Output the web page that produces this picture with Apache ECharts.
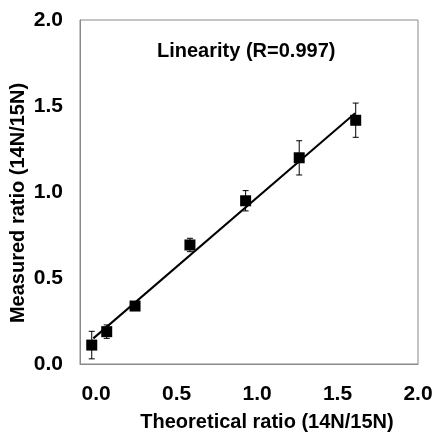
<!DOCTYPE html>
<html>
<head>
<meta charset="utf-8">
<script src="https://cdn.jsdelivr.net/npm/echarts@6/dist/echarts.min.js"></script>
<style>
html,body{margin:0;padding:0;background:#fff;}
#main{width:434px;height:433px;}
</style>
</head>
<body>
<div id="main"></div>
<script>
// theoretical vs measured ratio (14N/15N)
var theoX = [-0.027, 0.066, 0.242, 0.583, 0.929, 1.262, 1.613];
var measY = [0.11, 0.188, 0.337, 0.692, 0.949, 1.199, 1.417];
var errLow = [0.03, 0.149, 0.322, 0.653, 0.89, 1.099, 1.318];
var errHigh = [0.19, 0.227, 0.352, 0.731, 1.008, 1.298, 1.517];
// fitted line ends
var fitX = [-0.017, 1.609];
var fitY = [0.149, 1.458];
var tickVals = [0, 0.5, 1.0, 1.5, 2.0];

var fontFam = '"Liberation Sans", Arial, sans-serif';

function fmt(v){
    return Number(v).toFixed(1);
}

var pointData = [];
var barData = [];
for(var i=0;i<theoX.length;i++){
    pointData.push([theoX[i], measY[i]]);
    barData.push([theoX[i], errLow[i], errHigh[i]]);
}
var lineData = [];
for(var j=0;j<fitX.length;j++){
    lineData.push([fitX[j], fitY[j]]);
}

//误差线
function renderErr(params, api){
    var x = api.value(0);
    var lo = api.coord([x, api.value(1)]);
    var hi = api.coord([x, api.value(2)]);
    var w = 3;
    var st = {stroke:'#000', lineWidth:1};
    return {
        type:'group',
        children:[
            {type:'line', shape:{x1:lo[0], y1:lo[1], x2:hi[0], y2:hi[1]}, style:st},
            {type:'line', shape:{x1:lo[0]-w, y1:lo[1], x2:lo[0]+w, y2:lo[1]}, style:st},
            {type:'line', shape:{x1:hi[0]-w, y1:hi[1], x2:hi[0]+w, y2:hi[1]}, style:st}
        ]
    };
}

var myChart = echarts.init(document.getElementById('main'));
var option = {
    animation:false,
    backgroundColor:'#fff',
    title:{
        text:'Linearity (R=0.997)',
        left:152,
        top:36,
        textStyle:{fontFamily:fontFam, fontSize:20, fontWeight:'bold', color:'#000'}
    },
    grid:{
        show:true,
        left:80,
        right:16,
        top:20,
        bottom:69,
        outerBoundsMode:'none',
        containLabel:false,
        borderColor:'#8a8a8a',
        borderWidth:1
    },
    xAxis:{
        type:'value',
        min:-0.1,
        max:2.0,
        name:'Theoretical ratio (14N/15N)',
        nameLocation:'middle',
        nameGap:48,
        nameMoveOverlap:false,
        nameTextStyle:{fontFamily:fontFam, fontSize:20, fontWeight:'bold', color:'#000', padding:[0,0,0,36]},
        axisLine:{show:true, onZero:false, lineStyle:{color:'#8a8a8a', width:1}},
        axisTick:{show:false},
        splitLine:{show:false},
        axisLabel:{
            customValues:tickVals,
            formatter:fmt,
            margin:20,
            fontFamily:fontFam, fontSize:21, fontWeight:'bold', color:'#000'
        }
    },
    yAxis:{
        type:'value',
        min:0,
        max:2.0,
        interval:0.5,
        name:'Measured ratio (14N/15N)',
        nameLocation:'middle',
        nameGap:52,
        nameMoveOverlap:false,
        nameTextStyle:{fontFamily:fontFam, fontSize:20, fontWeight:'bold', color:'#000', padding:[0,22,0,0]},
        axisLine:{show:true, onZero:false, lineStyle:{color:'#8a8a8a', width:1}},
        axisTick:{show:false},
        splitLine:{show:false},
        axisLabel:{
            formatter:fmt,
            margin:17,
            fontFamily:fontFam, fontSize:21, fontWeight:'bold', color:'#000'
        }
    },
    series:[
        {
            name:'fit',
            type:'line',
            data:lineData,
            showSymbol:false,
            lineStyle:{color:'#000', width:2},
            z:2
        },
        {
            name:'error',
            type:'custom',
            data:barData,
            renderItem:renderErr,
            encode:{x:0, y:[1,2]},
            z:3
        },
        {
            name:'measured',
            type:'scatter',
            data:pointData,
            symbol:'rect',
            symbolSize:11,
            itemStyle:{color:'#000', opacity:1},
            z:4
        }
    ]
};
myChart.setOption(option);
</script>
</body>
</html>
